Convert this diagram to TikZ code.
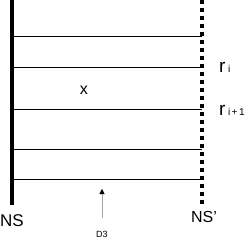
\documentclass[tikz,border=0pt]{standalone}
\usepackage{fontspec}
\setmainfont{Liberation Sans}
\usetikzlibrary{arrows.meta}
\begin{document}
\begin{tikzpicture}[x=1pt,y=-1pt,
  rung/.style={line width=0.9pt},
  lbl/.style={inner sep=0pt,font=\fontsize{16}{16}\selectfont},
  rlbl/.style={inner sep=0pt,anchor=base west,font=\fontsize{19}{19}\selectfont},
  small/.style={inner sep=0pt,font=\fontsize{9}{9}\selectfont}]
\useasboundingbox (0,0) rectangle (250,242);
\coordinate (LT) at (12.5,0);
\coordinate (LB) at (12.5,205);
\coordinate (RT) at (202,0);
\coordinate (RB) at (202,205);
\draw[line width=4pt] (LT) -- (LB);
\draw[line width=3.5pt,dash pattern=on 4pt off 4pt] (RT) -- (RB);
\foreach \y/\n in {36/a,67/b,109/c,149/d,179/e}{
  \coordinate (L\n) at (14.5,\y);
  \coordinate (R\n) at (202,\y);
  \draw[rung] (L\n) -- (R\n);
}
\node[rlbl] (ri) at (219,72) {r\kern2.5pt{\fontsize{10}{10}\selectfont i}};
\node[rlbl] (ri1) at (219,115) {r\kern2.5pt{\fontsize{10}{10}\selectfont i\kern1.5pt+\kern1.5pt1}};
\node[lbl] (x) at (84,90) {x};
\coordinate (A1) at (102,218);
\coordinate (A2) at (102,189);
\draw[gray!70,line width=0.4pt,-{Triangle[black,length=5pt,width=5pt]}] (A1) -- (A2);
\node[small] (d3) at (102,234) {D3};
\node[lbl,font=\fontsize{17}{17}\selectfont] (ns) at (12,221) {NS};
\node[lbl] (nsp) at (204,217) {NS'};
\end{tikzpicture}
\end{document}
